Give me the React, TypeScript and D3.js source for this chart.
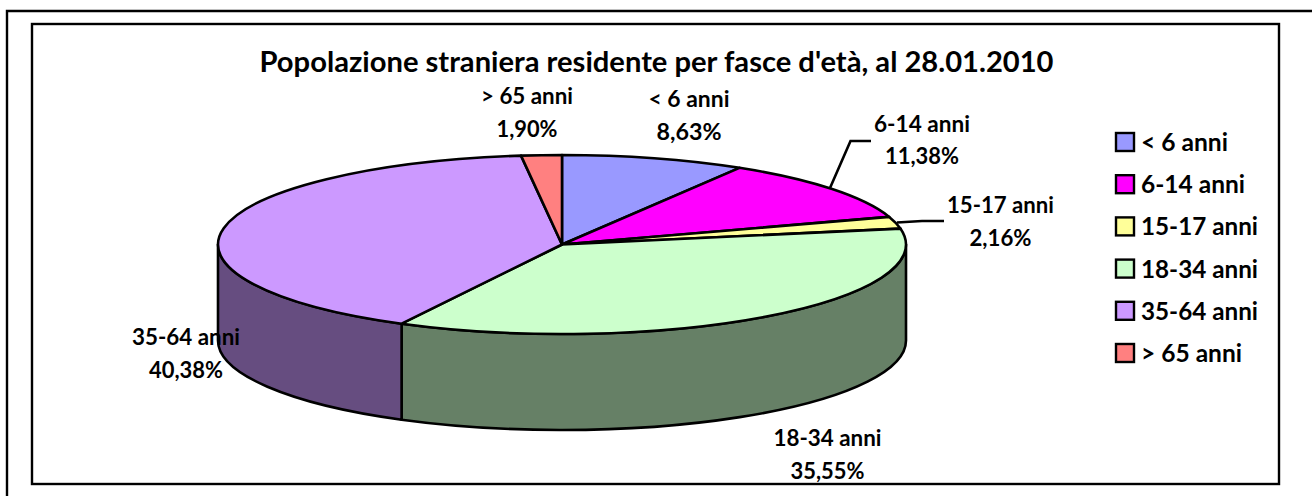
import React from "react";
import * as d3 from "d3";

const categories = ["< 6 anni", "6-14 anni", "15-17 anni", "18-34 anni", "35-64 anni", "> 65 anni"];
const values = [8.63, 11.38, 2.16, 35.55, 40.38, 1.9];
const valueLabels = ["8,63%", "11,38%", "2,16%", "35,55%", "40,38%", "1,90%"];
const topColors = ["#9999FF", "#FF00FF", "#FFFF99", "#CCFFCC", "#CC99FF", "#FF8080"];
const sideColors = ["#4D4D80", "#800080", "#808050", "#668066", "#664D80", "#804040"];
const title = "Popolazione straniera residente per fasce d'età, al 28.01.2010";

const W = 1312, H = 496;
const cx = 562, cy = 244.5, rx = 344, ry = 89.5, depth = 96;
const FONT = "Lato, sans-serif";
const LINE = 2.6;

// label anchor: center x, first baseline, second baseline, width of label line, width of value line
const labelPos = [
  { x: 689, y1: 107, y2: 140, w1: 81, w2: 65 },
  { x: 922, y1: 132, y2: 164, w1: 96, w2: 74 },
  { x: 1000.5, y1: 213, y2: 246, w1: 107, w2: 62 },
  { x: 827.5, y1: 446, y2: 479, w1: 108, w2: 74 },
  { x: 186, y1: 345, y2: 378, w1: 108, w2: 74 },
  { x: 527, y1: 104, y2: 137, w1: 92, w2: 61 },
];
const legendW = [87, 104, 117, 117, 117, 101];

const pt = (a: number, dy = 0): [number, number] => [cx + rx * Math.sin(a), cy - ry * Math.cos(a) + dy];
const f = d3.format(".2f");
const P = (p: [number, number]) => `${f(p[0])} ${f(p[1])}`;

function topPath(a0: number, a1: number) {
  const large = a1 - a0 > Math.PI ? 1 : 0;
  return `M${cx} ${cy}L${P(pt(a0))}A${rx} ${ry} 0 ${large} 1 ${P(pt(a1))}Z`;
}
function sidePath(a0: number, a1: number) {
  const s = Math.max(a0, Math.PI / 2), e = Math.min(a1, (3 * Math.PI) / 2);
  if (e <= s) return null;
  return `M${P(pt(s))}A${rx} ${ry} 0 0 1 ${P(pt(e))}L${P(pt(e, depth))}A${rx} ${ry} 0 0 0 ${P(pt(s, depth))}Z`;
}

export default function App() {
  const arcs = d3.pie<number>().sort(null).startAngle(0).endAngle(2 * Math.PI)(values);
  const legendY = d3.scalePoint<string>().domain(categories).range([142, 353]);
  const textStyle = { fontFamily: FONT, fontWeight: 700, fill: "#000" } as const;
  return (
    <svg width={W} height={H} style={{ position: "absolute", left: 0, top: 0, background: "#fff" }}>
      <path d={`M7 ${H}V11H${W}`} fill="none" stroke="#000" strokeWidth={2.4} />
      <rect x={32} y={24} width={1247} height={460} fill="#fff" stroke="#000" strokeWidth={2.4} />
      <text x={656.5} y={72} textAnchor="middle" fontSize={29} textLength={794} lengthAdjust="spacingAndGlyphs" style={textStyle}>{title}</text>
      {arcs.map((a, i) => {
        const d = sidePath(a.startAngle, a.endAngle);
        return d ? <path key={i} d={d} fill={sideColors[i]} stroke="#000" strokeWidth={LINE} strokeLinejoin="round" /> : null;
      })}
      {arcs.map((a, i) => (
        <path key={i} d={topPath(a.startAngle, a.endAngle)} fill={topColors[i]} stroke="#000" strokeWidth={LINE} strokeLinejoin="round" />
      ))}
      <polyline points="830,188 850.5,141 871,141" fill="none" stroke="#000" strokeWidth={LINE} />
      <polyline points="897,222.5 922,221 944,221" fill="none" stroke="#000" strokeWidth={LINE} />
      {categories.map((c, i) => {
        const p = labelPos[i];
        return (
          <g key={c} textAnchor="middle" fontSize={22} style={textStyle}>
            <text x={p.x} y={p.y1} textLength={p.w1} lengthAdjust="spacingAndGlyphs">{c}</text>
            <text x={p.x} y={p.y2} textLength={p.w2} lengthAdjust="spacingAndGlyphs">{valueLabels[i]}</text>
          </g>
        );
      })}
      {categories.map((c, i) => {
        const y = legendY(c)!;
        return (
          <g key={c}>
            <rect x={1116} y={y - 9} width={18} height={18} fill={topColors[i]} stroke="#000" strokeWidth={2.4} />
            <text x={1141} y={y + 9} fontSize={25} textLength={legendW[i]} lengthAdjust="spacingAndGlyphs" style={textStyle}>{c}</text>
          </g>
        );
      })}
    </svg>
  );
}
